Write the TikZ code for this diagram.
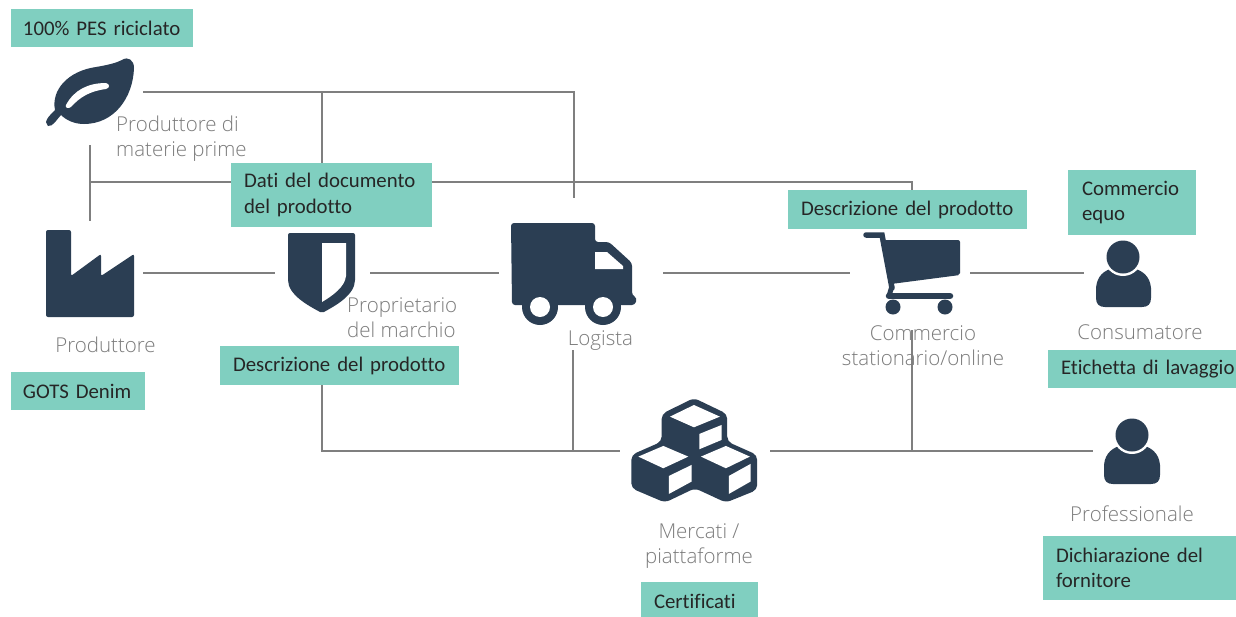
\documentclass[tikz,border=0pt]{standalone}
\usepackage{fontspec}
\setmainfont{Carlito}[Ligatures=NoCommon,WordSpace=0.75]
\newfontfamily\labelfont{Open Sans Light}
\definecolor{tealbox}{HTML}{80CFC0}
\definecolor{icondark}{HTML}{2B3E53}
\definecolor{linegray}{HTML}{7F7F7F}
\definecolor{labelgray}{HTML}{7C7C7C}
\tikzset{
  tagbox/.style={fill=tealbox,inner sep=0pt,outer sep=0pt,align=left,font=\fontsize{20.8}{25.5}\selectfont,text=black!85},
  role/.style={font=\labelfont\fontsize{20.5}{25}\selectfont,text=labelgray,align=center,inner sep=0pt},
  conn/.style={draw=linegray,line width=1.5pt},
  icon/.style={fill=icondark,draw=none},
  hole/.style={fill=white,draw=none}
}
\begin{document}
\begin{tikzpicture}[x=1pt,y=-1pt]
\useasboundingbox (0,0) rectangle (1236,616);
\fill[white] (0,0) rectangle (1236,616);
% connector anchors
\coordinate (leafR) at (143,92);
\coordinate (topA) at (322,92);
\coordinate (topB) at (574,92);
\coordinate (truckTop) at (574,198);
\coordinate (upperBox) at (322,163);
\coordinate (leafD) at (90,145);
\coordinate (factU) at (90,221);
\coordinate (midL) at (90,182);
\coordinate (midR) at (912,182);
\coordinate (descTop) at (912,190);
\coordinate (factR) at (143,273);
\coordinate (shieldL) at (275,273);
\coordinate (shieldR) at (370,273);
\coordinate (truckL) at (499,273);
\coordinate (truckR) at (663,273);
\coordinate (cartL) at (850,273);
\coordinate (cartR) at (970,273);
\coordinate (consL) at (1084,273);
\coordinate (brandD) at (322,385);
\coordinate (brandC) at (322,451);
\coordinate (logD) at (573,350);
\coordinate (logC) at (573,451);
\coordinate (cubesL) at (620,451);
\coordinate (cubesR) at (770,451);
\coordinate (profL) at (1093,451);
\coordinate (commD) at (912,330);
\coordinate (commC) at (912,451);
% connectors
\draw[conn] (leafR) -- (topB) -- (truckTop);
\draw[conn] (topA) -- (upperBox);
\draw[conn] (leafD) -- (factU);
\draw[conn] (midL) -- (midR) -- (descTop);
\draw[conn] (factR) -- (shieldL);
\draw[conn] (shieldR) -- (truckL);
\draw[conn] (truckR) -- (cartL);
\draw[conn] (cartR) -- (consL);
\draw[conn] (brandD) -- (brandC) -- (cubesL);
\draw[conn] (logD) -- (logC);
\draw[conn] (cubesR) -- (profL);
\draw[conn] (commD) -- (commC);
% leaf
\fill[icon] (46,122) .. controls (47,118) and (50,115) .. (55,110)
  .. controls (51,90) and (68,71) .. (96,67)
  .. controls (108,65) and (116,63) .. (122,60)
  .. controls (128,56) and (134,60) .. (134,68)
  .. controls (133,98) and (114,124) .. (84,124)
  .. controls (74,124) and (66,120) .. (61,115)
  .. controls (57,119) and (53,127) .. (48,126) -- cycle;
\fill[white] (66,105) .. controls (74,90) and (88,83) .. (106,83)
  .. controls (110,84) and (110,88) .. (106,89)
  .. controls (90,91) and (80,97) .. (71,107)
  .. controls (68,109) and (65,108) .. (66,105) -- cycle;
% factory
\fill[icon,rounded corners=2pt] (46,230) -- (71,230) -- (71,276) -- (101,254) -- (101,276) -- (134,254) -- (134,317) -- (46,317) -- cycle;
% shield
\fill[icon,rounded corners=2pt] (288,233) -- (355,233) -- (355,278) .. controls (355,295) and (335,306) .. (322,313) .. controls (309,306) and (288,295) .. (288,278) -- cycle;
\fill[hole] (322,243) -- (346,243) -- (346,276) .. controls (345,287) and (332,296) .. (322,302) -- cycle;
% truck
\fill[icon,rounded corners=3pt] (511,223) -- (595,223) -- (595,242) -- (609,242) -- (632,263) -- (632,295) -- (637,298) -- (635,305) -- (512,305) -- cycle;
\fill[icon] (540,307) circle (18);
\fill[icon] (603,307) circle (18);
\fill[hole] (540,307) circle (10);
\fill[hole] (603,307) circle (10);
\fill[hole] (595,252) -- (607,252) -- (623,266) -- (623,269) -- (595,269) -- cycle;
% cart
\draw[icondark,line width=5.5pt,line cap=round] (866,235) -- (882,235) -- (892,288);
\fill[icon,rounded corners=2pt] (884,240) -- (960,240) -- (960,275) -- (891,284) -- cycle;
\draw[icondark,line width=6.5pt,line cap=round] (889,296) -- (950,296);
\draw[icondark,line width=5pt] (892,286) -- (889,296);
\fill[icon] (893,307) circle (7.5);
\fill[icon] (945,307) circle (7.5);
% consumer
\fill[icon] (1096,298) .. controls (1096,304) and (1099,307) .. (1105,307) -- (1142,307) .. controls (1148,307) and (1151,304) .. (1151,298) -- (1151,288) .. controls (1150,276) and (1142,270) .. (1132,268) -- (1114,268) .. controls (1104,270) and (1097,276) .. (1096,288) -- cycle;
\fill[hole] (1123,257) circle (19);
\fill[icon] (1123,257) circle (16.5);
% professional
\fill[icon] (1104,475) .. controls (1104,481) and (1107,484) .. (1113,484) -- (1151,484) .. controls (1157,484) and (1160,481) .. (1160,475) -- (1160,465) .. controls (1159,453) and (1151,447) .. (1141,445) -- (1123,445) .. controls (1113,447) and (1105,453) .. (1104,465) -- cycle;
\fill[hole] (1132,435) circle (19);
\fill[icon] (1132,435) circle (16.5);
% cubes
\begin{scope}[shift={(620,390)},x=0.333pt,y=-0.333pt]
\fill[icon,rounded corners=5pt] (222,24) -- (322,72) -- (322,155) -- (412,195) -- (412,300) -- (318,338) -- (225,295) -- (135,338) -- (34,295) -- (34,195) -- (125,155) -- (125,72) -- cycle;
\fill[hole] (222,45) -- (300,80) -- (222,112) -- (150,80) -- cycle;
\fill[hole] (305,105) -- (305,150) -- (238,178) -- (238,132) -- cycle;
\fill[hole] (130,168) -- (205,200) -- (130,235) -- (55,200) -- cycle;
\fill[hole] (215,225) -- (215,275) -- (147,312) -- (147,258) -- cycle;
\fill[hole] (318,168) -- (390,200) -- (318,235) -- (243,200) -- cycle;
\fill[hole] (392,222) -- (392,275) -- (327,312) -- (327,258) -- cycle;
\end{scope}
% tag boxes
\node[tagbox,anchor=north west,minimum width=182pt,minimum height=38pt,text width=158pt] (tagPes) at (11,9) {\mbox{100\% PES riciclato}};
\node[tagbox,anchor=north west,minimum width=134pt,minimum height=38pt,text width=110pt] (tagGots) at (11,372) {\mbox{GOTS Denim}};
\node[tagbox,anchor=north west,minimum width=201pt,minimum height=64pt,text width=175pt] (tagDati) at (231,163) {Dati del documento\\del prodotto};
\node[tagbox,anchor=north west,minimum width=239pt,minimum height=39pt,text width=213pt] (tagBrand) at (220,346) {\mbox{Descrizione del prodotto}};
\node[tagbox,anchor=north west,minimum width=239pt,minimum height=39pt,text width=213pt] (tagCart) at (788,190) {\mbox{Descrizione del prodotto}};
\node[tagbox,anchor=north west,minimum width=128pt,minimum height=65pt,text width=100pt] (tagEquo) at (1068,170) {Commercio\\equo};
\node[tagbox,anchor=north west,minimum width=188pt,minimum height=38pt,text width=162pt] (tagLav) at (1048,350) {\mbox{Etichetta di lavaggio}};
\node[tagbox,anchor=north west,minimum width=193pt,minimum height=64pt,text width=167pt] (tagForn) at (1043,536) {Dichiarazione del\\fornitore};
\node[tagbox,anchor=north west,minimum width=117pt,minimum height=38pt,text width=91pt] (tagCert) at (641,582) {\mbox{Certificati}};
% role labels
\node[role,anchor=north west,align=left] (lblMat) at (116,116) {Produttore di\\materie prime};
\node[role] (lblProd) at (105.5,345) {Produttore};
\node[role,anchor=north west,align=left] (lblBrand) at (347,297) {Proprietario\\del marchio};
\node[role] (lblLog) at (600.5,341) {Logista};
\node[role] (lblComm) at (923,346) {Commercio\\stationario/online};
\node[role] (lblCons) at (1140,332) {Consumatore};
\node[role] (lblProf) at (1132,514) {Professionale};
\node[role] (lblMerc) at (699,546.5) {Mercati /\\piattaforme};
\end{tikzpicture}
\end{document}
